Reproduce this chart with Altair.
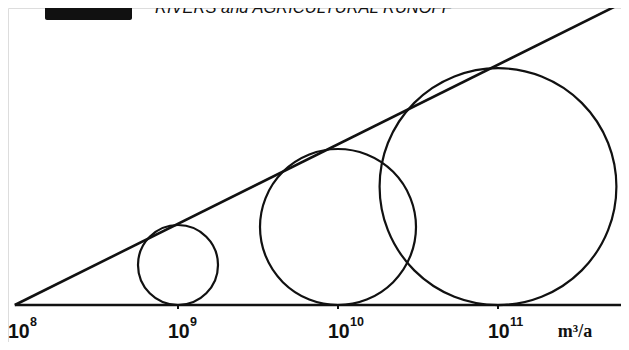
import altair as alt
import pandas as pd

# decade positions (log10 of annual volume, m^3/a) and their tick labels
decades = [8, 9, 10, 11]
tick_base = ["10", "10", "10", "10"]
tick_exp = ["8", "9", "10", "11"]

# circles: decade position and relative diameter
circle_decade = [9, 10, 11]
circle_diam = [1.0, 1.95, 2.96]

# straight envelope line: decade vs relative height
line_x = [7.98, 11.75]
line_y = [0.0, 3.75]

# baseline extent
base_x = [7.98, 11.9]
base_y = [0.0, 0.0]

unit_label = "m³/a"
header = "RIVERS and AGRICULTURAL RUNOFF"

INK = "#111111"
xs = alt.Scale(domain=[8, 11], range=[10, 490])
ys = alt.Scale(domain=[0, 1], range=[297, 217])

df_ticks = pd.DataFrame({"decade": decades, "base": tick_base, "exp": tick_exp})
df_circ = pd.DataFrame({"decade": circle_decade, "diam": circle_diam})
df_line = pd.DataFrame({"x": line_x, "y": line_y})
df_base = pd.DataFrame({"x": base_x, "y": base_y})
df_one = pd.DataFrame({"t": [header]})
df_unit = pd.DataFrame({"t": [unit_label]})

baseline = alt.Chart(df_base).mark_line(color=INK, strokeWidth=2.6).encode(
    x=alt.X("x:Q", scale=xs, axis=None),
    y=alt.Y("y:Q", scale=ys, axis=None),
)

envelope = alt.Chart(df_line).mark_line(color=INK, strokeWidth=2.6).encode(
    x=alt.X("x:Q", scale=xs, axis=None),
    y=alt.Y("y:Q", scale=ys, axis=None),
)

circles = (
    alt.Chart(df_circ)
    .transform_calculate(cy="datum.diam / 2")
    .mark_point(shape="circle", filled=False, color=INK, strokeWidth=2.2, opacity=1)
    .encode(
        x=alt.X("decade:Q", scale=xs, axis=None),
        y=alt.Y("cy:Q", scale=ys, axis=None),
        size=alt.Size(
            "diam:Q",
            scale=alt.Scale(type="pow", exponent=2, domain=[0, 3], range=[0, 57600]),
            legend=None,
        ),
    )
)

ticks = alt.Chart(df_circ).mark_rule(color=INK, strokeWidth=2).encode(
    x=alt.X("decade:Q", scale=xs, axis=None),
    y=alt.value(297),
    y2=alt.value(301),
)

FONT = "Liberation Sans, Arial, sans-serif"

base_labels = alt.Chart(df_ticks).mark_text(
    align="left", baseline="alphabetic", dx=-10, fontSize=19.5, fontWeight="bold",
    font=FONT, color=INK,
).encode(
    x=alt.X("decade:Q", scale=xs, axis=None),
    y=alt.value(329.5),
    text="base:N",
)

exp_labels = alt.Chart(df_ticks).mark_text(
    align="left", baseline="alphabetic", dx=12, fontSize=12.5, fontWeight="bold",
    font=FONT, color=INK,
).encode(
    x=alt.X("decade:Q", scale=xs, axis=None),
    y=alt.value(318),
    text="exp:N",
)

unit = alt.Chart(df_unit).mark_text(
    align="center", baseline="alphabetic", fontSize=18, fontWeight="bold",
    font="Liberation Serif, DejaVu Serif, serif", color=INK,
).encode(x=alt.value(567), y=alt.value(329), text="t:N")

block = alt.Chart(df_one).mark_rect(color=INK, cornerRadius=2).encode(
    x=alt.value(37), x2=alt.value(124), y=alt.value(-4), y2=alt.value(12)
)

head = alt.Chart(df_one).mark_text(
    align="left", baseline="alphabetic", fontSize=16.5, fontStyle="italic",
    font="Liberation Sans, DejaVu Sans, sans-serif", color=INK,
).encode(x=alt.value(147), y=alt.value(5), text="t:N")

chart = (
    alt.layer(baseline, envelope, circles, ticks, base_labels, exp_labels, unit, block, head)
    .properties(width=613, height=334, padding=0, autosize=alt.AutoSizeParams(type="none"))
    .configure_view(stroke=None)
    .configure(background="white")
)

chart.save("out.html", embed_options={"renderer": "svg", "actions": False})
